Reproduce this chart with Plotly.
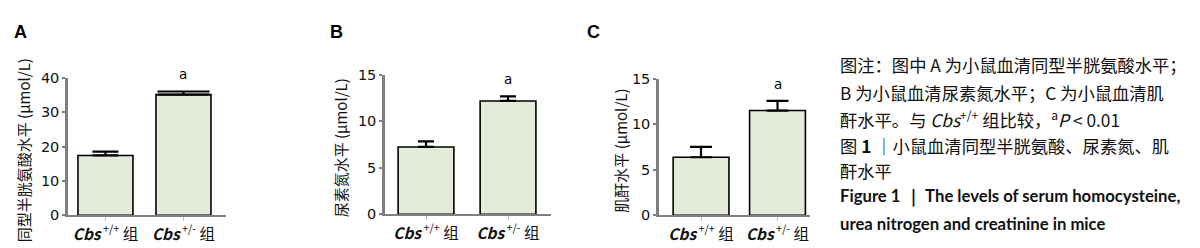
import plotly.graph_objects as go

W, H = 1200, 248

categories = ["Cbs+/+ 组", "Cbs+/- 组"]
tick_labels = ["<b><i>Cbs</i></b><sup> +/+</sup> 组", "<b><i>Cbs</i></b><sup> +/-</sup> 组"]

hcy_mean = [17.4, 35.1]
hcy_err = [1.1, 0.9]
bun_mean = [7.25, 12.2]
bun_err = [0.6, 0.5]
cre_mean = [6.37, 11.5]
cre_err = [1.13, 1.06]

y_titles = ["同型半胱氨酸水平 (μmol/L)", "尿素氮水平 (μmol/L)", "肌酐水平 (μmol/L)"]
panel_letters = ["A", "B", "C"]
sig_mark = "a"

caption_lines = [
    "图注：图中 A 为小鼠血清同型半胱氨酸水平；",
    "B 为小鼠血清尿素氮水平；C 为小鼠血清肌",
    "酐水平。与 <i>Cbs</i><sup>+/+</sup> 组比较，<sup>a</sup><i>P</i> < 0.01",
    "图 <b>1</b> ｜小鼠血清同型半胱氨酸、尿素氮、肌",
    "酐水平",
    "<b>Figure 1 ｜ The levels of serum homocysteine,</b>",
    "<b>urea nitrogen and creatinine in mice</b>",
]

BAR_FILL = "#e2ecd8"
AXIS_GRAY = "#7f7f7f"
CJK = "Noto Sans CJK SC"

panels = [
    dict(data=(hcy_mean, hcy_err), px=(60, 218), py=(213, 66), ymax=40, dtick=10,
         xr=(-0.48, 1.545), bw=0.705, caps=[13, 26], letter_x=12, title_x=15),
    dict(data=(bun_mean, bun_err), px=(377, 543), py=(212, 63), ymax=15, dtick=5,
         xr=(-0.5, 1.524), bw=0.68, caps=[8, 8], letter_x=328, title_x=332),
    dict(data=(cre_mean, cre_err), px=(651, 802), py=(213, 67), ymax=15, dtick=5,
         xr=(-0.55, 1.425), bw=0.73, caps=[11, 11], letter_x=585, title_x=613),
]

fig = go.Figure()
annotations = []
for i, p in enumerate(panels):
    n = "" if i == 0 else str(i + 1)
    xa, ya = "x" + n, "y" + n
    means, errs = p["data"]
    for j in range(2):
        fig.add_trace(go.Bar(
            x=[j], y=[means[j]], width=p["bw"], xaxis=xa, yaxis=ya,
            marker=dict(color=BAR_FILL, line=dict(color="black", width=1.6)),
            error_y=dict(type="data", symmetric=False, array=[errs[j]], arrayminus=[0],
                         color="black", thickness=2.2, width=p["caps"][j]),
            showlegend=False, hoverinfo="skip",
        ))
    x0, x1 = p["px"]
    yb, yt = p["py"]
    fig.update_layout(**{
        "xaxis" + n: dict(domain=[x0 / W, x1 / W], range=list(p["xr"]), anchor=ya,
                          tickvals=[0, 1], ticktext=tick_labels, showline=True,
                          linecolor=AXIS_GRAY, linewidth=2, ticks="outside", ticklen=4,
                          tickcolor="#bbbbbb", tickwidth=1, showgrid=False, zeroline=False,
                          tickfont=dict(family=CJK, size=15.5, color="#111111"),
                          fixedrange=True),
        "yaxis" + n: dict(domain=[1 - yb / H, 1 - yt / H], range=[0, p["ymax"]], anchor=xa,
                          dtick=p["dtick"], showline=True, linecolor=AXIS_GRAY, linewidth=2.5,
                          ticks="outside", ticklen=3, tickcolor=AXIS_GRAY, tickwidth=2,
                          showgrid=False, zeroline=False,
                          tickfont=dict(family="DejaVu Sans", size=14.5, color="#111111"),
                          fixedrange=True),
    })
    annotations.append(dict(x=1, y=means[1] + errs[1], xref=xa, yref=ya, text=sig_mark,
                            showarrow=False, yshift=17, yanchor="middle",
                            font=dict(family="DejaVu Sans", size=13.5, color="black")))
    annotations.append(dict(x=p["title_x"] / W, y=1 - ((yb + yt) / 2 + 4) / H, xref="paper", yref="paper",
                            text=y_titles[i], textangle=-90, showarrow=False,
                            xanchor="center", yanchor="middle",
                            font=dict(family=CJK, size=15, color="#111111")))
    annotations.append(dict(x=p["letter_x"] / W, y=1 - 17 / H, xref="paper", yref="paper",
                            text="<b>" + panel_letters[i] + "</b>", showarrow=False,
                            xanchor="center", yanchor="middle",
                            font=dict(family="Liberation Sans", size=18, color="black")))

caption_y = [52, 82, 110, 138, 165, 193, 222]
for k, (line, yy) in enumerate(zip(caption_lines, caption_y)):
    eng = k >= 5
    annotations.append(dict(x=830 / W, y=1 - yy / H, xref="paper", yref="paper", text=line,
                            showarrow=False, xanchor="left", yanchor="middle",
                            font=dict(family="Lato" if eng else CJK, size=16.7 if eng else 17.3,
                                      color="#111111")))

fig.update_layout(
    width=W, height=H, margin=dict(l=0, r=0, t=0, b=0),
    paper_bgcolor="white", plot_bgcolor="white",
    annotations=annotations, barmode="overlay",
)

fig.write_html("out.html")
